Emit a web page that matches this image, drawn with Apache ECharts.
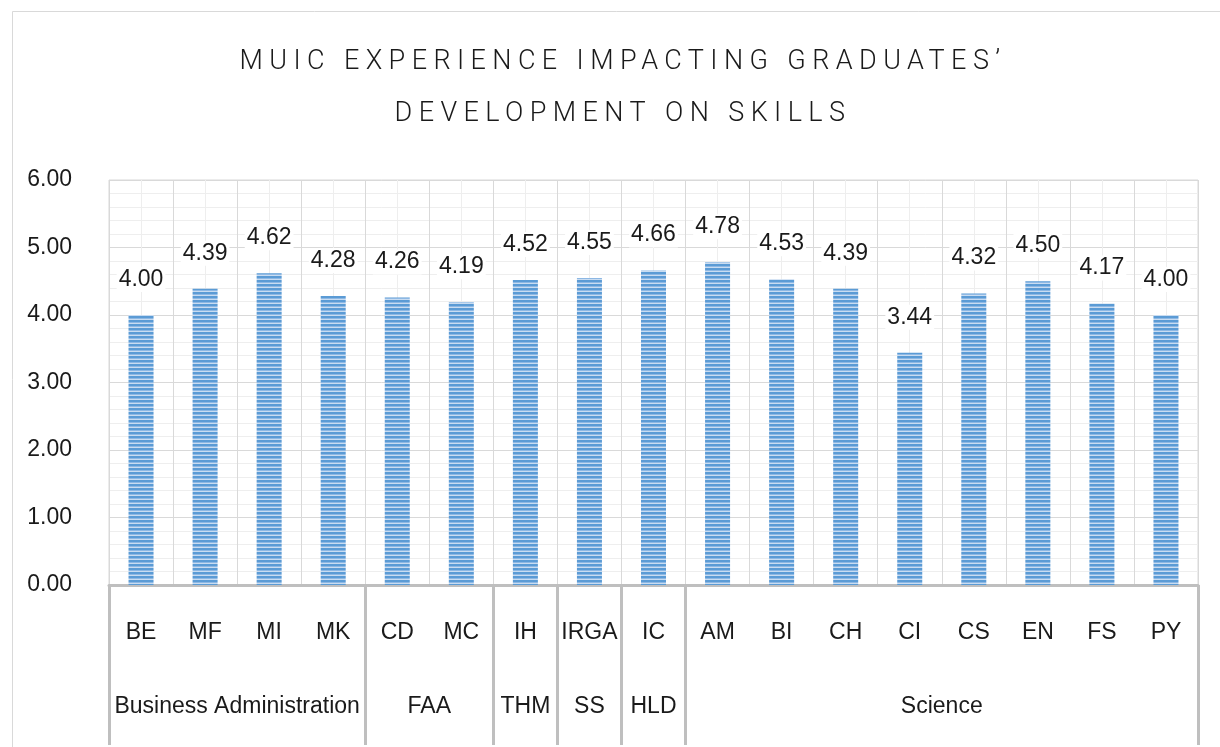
<!DOCTYPE html>
<html>
<head>
<meta charset="utf-8">
<script src="https://cdn.jsdelivr.net/npm/echarts@6/dist/echarts.min.js"></script>
<style>
  html, body { margin: 0; padding: 0; background: #fff; }
  #chart { width: 1220px; height: 747px; }
</style>
</head>
<body>
<div id="chart"></div>
<script>
// programme codes and scores
const programs = ['BE', 'MF', 'MI', 'MK', 'CD', 'MC', 'IH', 'IRGA', 'IC', 'AM', 'BI', 'CH', 'CI', 'CS', 'EN', 'FS', 'PY']
const scores = [4.00, 4.39, 4.62, 4.28, 4.26, 4.19, 4.52, 4.55, 4.66, 4.78, 4.53, 4.39, 3.44, 4.32, 4.50, 4.17, 4.00]
// divisions and how many programmes each one spans
const divisions = ['Business Administration', 'FAA', 'THM', 'SS', 'HLD', 'Science']
const divisionSizes = [4, 2, 1, 1, 1, 8]
const yTicks = [0, 1, 2, 3, 4, 5, 6]

// title is letter-spaced in the original: give text drawn in Roboto some tracking
const origFillText = CanvasRenderingContext2D.prototype.fillText
CanvasRenderingContext2D.prototype.fillText = function (t, x, y, w) {
  this.letterSpacing = this.font.indexOf('Roboto') >= 0 ? '6.4px' : '0px'
  return w === undefined ? origFillText.call(this, t, x, y) : origFillText.call(this, t, x, y, w)
}

// half-slot axis: 2 slots per programme, so group centres land on a point
const halfSlots = []
const groupEdges = [0]
const groupLabel = {}
let pos = 0
divisions.forEach((d, i) => {
  groupLabel[pos + divisionSizes[i]] = d
  pos += divisionSizes[i] * 2
  groupEdges.push(pos)
})
for (let i = 0; i <= programs.length * 2; i++) halfSlots.push(groupLabel[i] || '')

// horizontal striped fill for the bars
function stripes() {
  const c = document.createElement('canvas')
  c.width = 4; c.height = 4
  const ctx = c.getContext('2d')
  ctx.fillStyle = '#5b9bd5'; ctx.fillRect(0, 0, 4, 2)
  ctx.fillStyle = '#8db8e4'; ctx.fillRect(0, 2, 4, 1)
  ctx.fillStyle = '#c9dcf1'; ctx.fillRect(0, 3, 4, 1)
  return c
}

const font = 'Liberation Sans'
const chart = echarts.init(document.getElementById('chart'))
chart.setOption({
  animation: false,
  backgroundColor: '#fff',
  graphic: [{
    type: 'rect', left: 10, top: 9, shape: { width: 1230, height: 736 },
    style: { fill: 'none', stroke: '#d9d9d9', lineWidth: 1 }, silent: true
  }],
  title: {
    text: 'MUIC EXPERIENCE IMPACTING GRADUATES’\nDEVELOPMENT ON SKILLS',
    left: 618, top: 31, textAlign: 'center',
    textStyle: { fontFamily: 'Roboto', fontWeight: 300, fontSize: 27, lineHeight: 52, color: '#1a1a1a' }
  },
  grid: { left: 109, right: 22, top: 180, bottom: 162, show: true, borderColor: '#d9d9d9', borderWidth: 1 },
  xAxis: [{
    type: 'category',
    data: programs,
    axisLine: { show: true, lineStyle: { color: '#bfbfbf', width: 3 } },
    axisTick: { show: false },
    axisLabel: { interval: 0, margin: 36, fontFamily: font, fontSize: 23, color: '#1a1a1a' },
    splitLine: { show: true, interval: 0, lineStyle: { color: '#d9d9d9', width: 1 } }
  }, {
    type: 'category',
    position: 'bottom',
    boundaryGap: false,
    data: halfSlots,
    axisLine: { show: false },
    axisTick: {
      show: true, length: 160, inside: false,
      interval: (i) => groupEdges.includes(i),
      lineStyle: { color: '#bfbfbf', width: 3 }
    },
    axisLabel: { interval: 0, margin: 110, fontFamily: font, fontSize: 23, color: '#1a1a1a' },
    splitLine: { show: true, interval: (i) => i % 2 === 1, lineStyle: { color: '#eeeeee', width: 1 } }
  }],
  yAxis: {
    type: 'value',
    min: yTicks[0], max: yTicks[yTicks.length - 1], interval: 1,
    axisLine: { show: false },
    axisTick: { show: false },
    axisLabel: { margin: 37, fontFamily: font, fontSize: 23, color: '#1a1a1a', formatter: (v) => v.toFixed(2) },
    splitLine: { lineStyle: { color: '#d9d9d9', width: 1 } },
    minorTick: { show: false, splitNumber: 5 },
    minorSplitLine: { show: true, lineStyle: { color: '#eeeeee', width: 1 } }
  },
  series: [{
    type: 'bar',
    data: scores,
    barWidth: 25,
    itemStyle: { color: { image: stripes(), repeat: 'repeat' } },
    label: {
      show: true, position: 'top', distance: 23,
      fontFamily: font, fontSize: 23, color: '#1a1a1a',
      backgroundColor: '#fff', padding: [1, 2],
      formatter: (p) => p.value.toFixed(2)
    }
  }]
})
</script>
</body>
</html>
